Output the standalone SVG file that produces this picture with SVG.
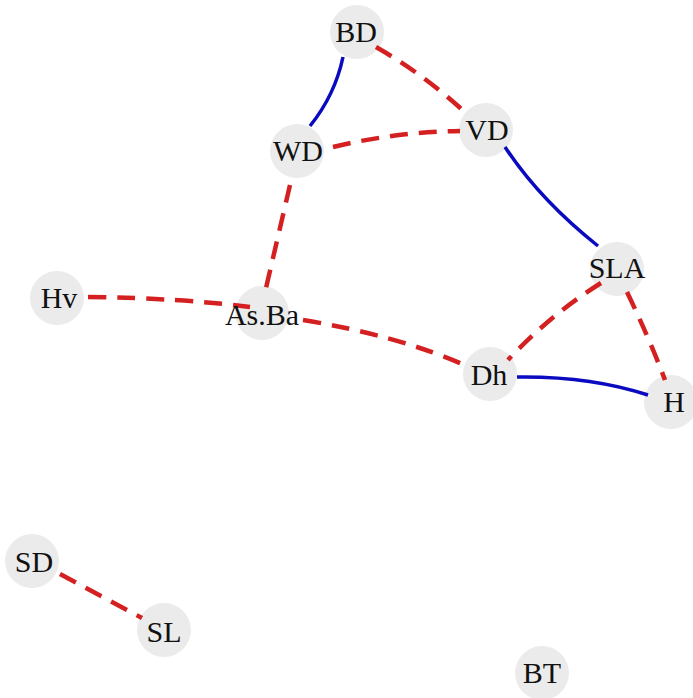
<svg xmlns="http://www.w3.org/2000/svg" width="693" height="698" viewBox="0 0 693 698">
<style>
.node circle{fill:#ebebeb;}
.node text{font-family:"Liberation Serif","Times New Roman",serif;font-size:30px;fill:#111;text-anchor:middle;}
.pos{fill:none;stroke:#0a0ac0;stroke-width:3.5;}
.neg{fill:none;stroke:#d42020;stroke-width:4.5;stroke-dasharray:18,11;}
</style>
<rect width="693" height="698" fill="#fff"/>
<g id="BD" class="node"><circle cx="357" cy="32" r="27"/></g>
<g id="WD" class="node"><circle cx="297" cy="151" r="27"/></g>
<g id="VD" class="node"><circle cx="486" cy="130" r="27"/></g>
<g id="Hv" class="node"><circle cx="57" cy="298" r="27"/></g>
<g id="AsBa" class="node"><circle cx="262" cy="313" r="27"/></g>
<g id="SLA" class="node"><circle cx="617" cy="269" r="27"/></g>
<g id="Dh" class="node"><circle cx="490" cy="374" r="27"/></g>
<g id="H" class="node"><circle cx="671" cy="402" r="27"/></g>
<g id="SD" class="node"><circle cx="32" cy="561" r="27"/></g>
<g id="SL" class="node"><circle cx="164" cy="630" r="27"/></g>
<g id="BT" class="node"><circle cx="542" cy="673" r="27"/></g>
<g id="edges">
<path class="pos" d="M343,57 Q335,95 310,126"/>
<path class="neg" d="M376,47 Q425,75 468,115"/>
<path class="neg" d="M333,147 Q395,132 460,131"/>
<path class="pos" d="M505,147 Q540,200 598,246"/>
<path class="neg" d="M290,185 L266,288"/>
<path class="neg" d="M88,297 Q180,298 250,307"/>
<path class="neg" d="M303,320 Q400,336 469,367"/>
<path class="neg" d="M601,283 Q550,315 508,360"/>
<path class="neg" d="M627,292 Q650,340 665,380"/>
<path class="pos" d="M517,377 Q590,376 648,395"/>
<path class="neg" d="M60,574 L142,618"/>
</g>
<g id="labels" class="node">
<text x="356" y="42">BD</text>
<text x="298" y="161">WD</text>
<text x="487" y="140">VD</text>
<text x="59" y="308">Hv</text>
<text x="262" y="325">As.Ba</text>
<text x="617" y="278">SLA</text>
<text x="489" y="385">Dh</text>
<text x="674" y="412">H</text>
<text x="34" y="572">SD</text>
<text x="164" y="642">SL</text>
<text x="542" y="683">BT</text>
</g>
</svg>
